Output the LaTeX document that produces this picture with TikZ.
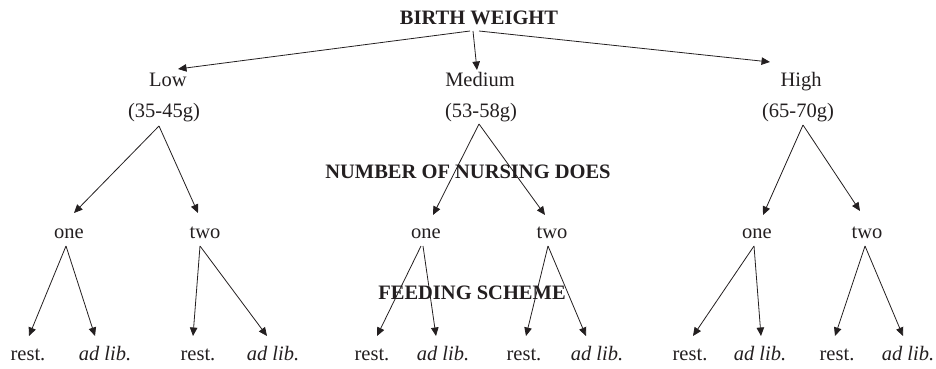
\documentclass[tikz,border=0pt]{standalone}
\usepackage{fontspec}
\setmainfont{Liberation Serif}
\usetikzlibrary{arrows.meta,calc}
\definecolor{ink}{HTML}{231F20}
\begin{document}
\begin{tikzpicture}[x=1pt,y=1pt,
  lbl/.style={anchor=base, inner sep=0pt, text=ink, font=\fontsize{20.5}{24}\selectfont},
  head/.style={lbl, font=\fontsize{20.5}{24}\selectfont\bfseries},
  lib/.style={lbl, font=\fontsize{20.5}{24}\selectfont\itshape},
  arr/.style={draw=ink, line width=0.8pt, -{Triangle[length=8.5pt,width=7.5pt]}}]
\useasboundingbox (0,0) rectangle (936,-369);

% factor headings
\node[head] (bw)   at (479,-25)  {BIRTH WEIGHT};
\node[head] (nd)   at (468,-178) {NUMBER OF NURSING DOES};
\node[head] (fs)   at (472,-299) {FEEDING SCHEME};

% birth weight classes
\node[lbl] (low)  at (168,-86)  {Low};
\node[lbl] (med)  at (480,-86)  {Medium};
\node[lbl] (high) at (801,-86)  {High};
\node[lbl] (lrg)  at (164,-117) {(35-45g)};
\node[lbl] (mrg)  at (481,-117) {(53-58g)};
\node[lbl] (hrg)  at (798,-117) {(65-70g)};

% nursing does
\node[lbl] (lone) at (69,-238)  {one};
\node[lbl] (ltwo) at (205,-238) {two};
\node[lbl] (mone) at (426,-238) {one};
\node[lbl] (mtwo) at (552,-238) {two};
\node[lbl] (hone) at (757,-238) {one};
\node[lbl] (htwo) at (867,-238) {two};

% feeding schemes
\node[lbl] (lr1) at (28,-360)  {rest.};
\node[lib] (la1) at (105,-360) {ad lib.};
\node[lbl] (lr2) at (198,-360) {rest.};
\node[lib] (la2) at (273,-360) {ad lib.};
\node[lbl] (mr1) at (372,-360) {rest.};
\node[lib] (ma1) at (443,-360) {ad lib.};
\node[lbl] (mr2) at (524,-360) {rest.};
\node[lib] (ma2) at (597,-360) {ad lib.};
\node[lbl] (hr1) at (690,-360) {rest.};
\node[lib] (ha1) at (760,-360) {ad lib.};
\node[lbl] (hr2) at (837,-360) {rest.};
\node[lib] (ha2) at (908,-360) {ad lib.};

% birth weight -> classes
\draw[arr] ($(bw.base)+(-9,-6)$) -- ($(low.base)+(10,17)$);
\draw[arr] ($(bw.base)+(-6,-6)$) -- ($(med.base)+(-3,16)$);
\draw[arr] ($(bw.base)+(0,-6)$)  -- ($(high.base)+(-31,24)$);

% classes -> nursing does
\draw[arr] ($(lrg.base)+(-5,-9)$) -- ($(lone.base)+(5,25)$);
\draw[arr] ($(lrg.base)+(-5,-9)$) -- ($(ltwo.base)+(-7,25)$);
\draw[arr] ($(mrg.base)+(-2,-7)$) -- ($(mone.base)+(7,23)$);
\draw[arr] ($(mrg.base)+(-2,-7)$) -- ($(mtwo.base)+(-7,23)$);
\draw[arr] ($(hrg.base)+(5,-8)$)  -- ($(hone.base)+(6,23)$);
\draw[arr] ($(hrg.base)+(5,-8)$)  -- ($(htwo.base)+(-7,27)$);

% nursing does -> feeding schemes
\draw[arr] ($(lone.base)+(-3,-8)$) -- ($(lr1.base)+(1,24)$);
\draw[arr] ($(lone.base)+(-3,-8)$) -- ($(la1.base)+(-10,24)$);
\draw[arr] ($(ltwo.base)+(-5,-8)$) -- ($(lr2.base)+(-5,24)$);
\draw[arr] ($(ltwo.base)+(-5,-8)$) -- ($(la2.base)+(-6,24)$);
\draw[arr] ($(mone.base)+(-5,-8)$) -- ($(mr1.base)+(5,24)$);
\draw[arr] ($(mone.base)+(-3,-8)$) -- ($(ma1.base)+(-7,24)$);
\draw[arr] ($(mtwo.base)+(-4,-8)$) -- ($(mr2.base)+(2,24)$);
\draw[arr] ($(mtwo.base)+(-4,-8)$) -- ($(ma2.base)+(-11,24)$);
\draw[arr] ($(hone.base)+(-3,-8)$) -- ($(hr1.base)+(3,24)$);
\draw[arr] ($(hone.base)+(-3,-8)$) -- ($(ha1.base)+(1,24)$);
\draw[arr] ($(htwo.base)+(-2,-8)$) -- ($(hr2.base)+(-2,24)$);
\draw[arr] ($(htwo.base)+(-2,-8)$) -- ($(ha2.base)+(-5,24)$);
\end{tikzpicture}
\end{document}
